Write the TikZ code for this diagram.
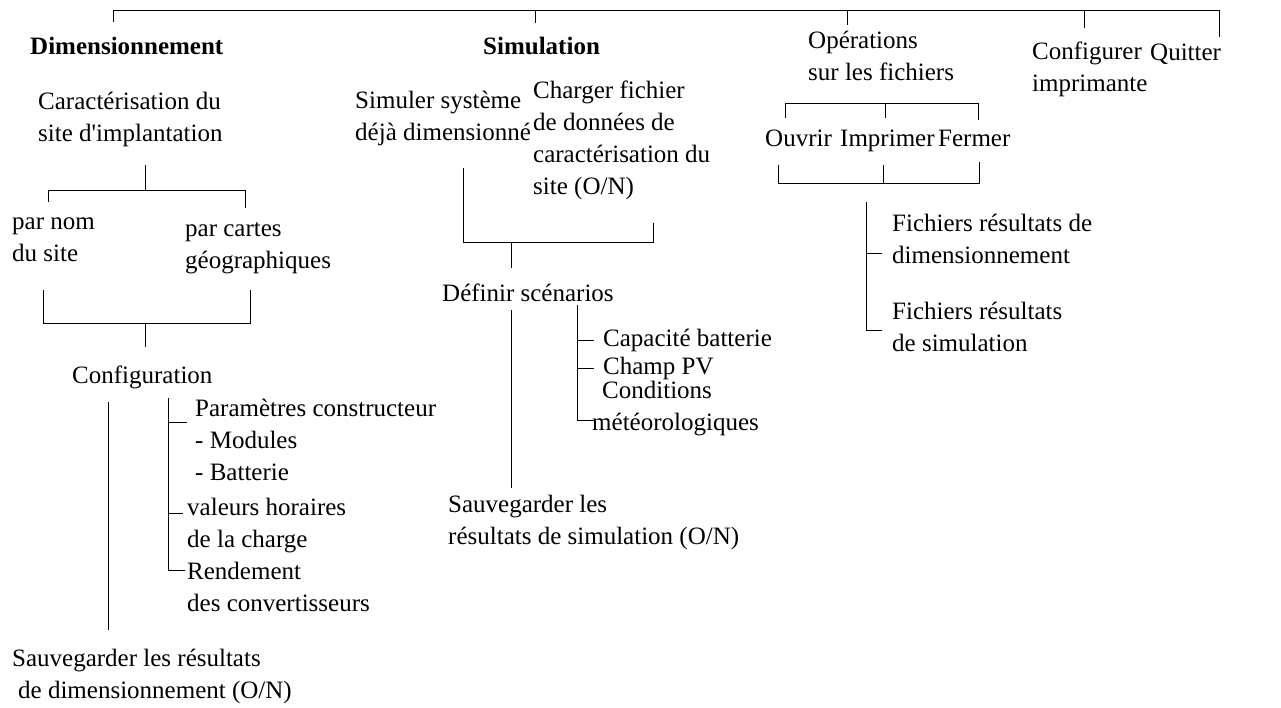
\documentclass[tikz,border=0pt]{standalone}
\usepackage{fontspec}
\setmainfont{Liberation Serif}
\begin{document}
\begin{tikzpicture}[x=1pt, y=-1pt,
  txt/.style={anchor=west, inner sep=0pt, align=left, font=\fontsize{25}{32}\selectfont,
    execute at begin node=\strut, execute at end node=\strut},
  head/.style={txt, font=\fontsize{25}{32}\selectfont\bfseries},
  lnk/.style={line width=0.8pt}
]
\useasboundingbox (0,0) rectangle (1281,708);

\node[head] (dim)  at (30,48)   {Dimensionnement};
\node[head] (sim)  at (483,48)  {Simulation};
\node[txt]  (ops)  at (808,61)  {Opérations\\sur les fichiers};
\node[txt]  (cfg)  at (1032,72) {Configurer\\imprimante};
\node[txt]  (quit) at (1150,54) {Quitter};

\node[txt] (car)      at (38,122)  {Caractérisation du\\site d\textquotesingle implantation};
\node[txt] (nom)      at (12,244)  {par nom\\du site};
\node[txt] (cartes)   at (185,250) {par cartes\\géographiques};
\node[txt] (conf)     at (72,377)  {Configuration};
\node[txt] (param)    at (195,445) {Paramètres constructeur\\- Modules\\- Batterie};
\node[txt] (horaires) at (187,528) {valeurs horaires\\de la charge};
\node[txt] (rend)     at (187,592) {Rendement\\des convertisseurs};
\node[txt] (savdim)   at (12,679)  {Sauvegarder les résultats\\\hspace*{6pt}de dimensionnement (O/N)};

\node[txt] (simsys)  at (355,121) {Simuler système\\déjà dimensionné};
\node[txt] (charger) at (533,143) {Charger fichier\\de données de\\caractérisation du\\site (O/N)};
\node[txt] (defsc)   at (442,295) {Définir scénarios};
\node[txt] (capa)    at (603,340) {Capacité batterie};
\node[txt] (champ)   at (603,368) {Champ PV};
\node[txt] (cond)    at (592,411) {\hspace*{10pt}Conditions\\météorologiques};
\node[txt] (savsim)  at (448,525) {Sauvegarder les\\résultats de simulation (O/N)};

\node[txt] (ouvrir) at (765,140) {Ouvrir};
\node[txt] (impr)   at (840,140) {Imprimer};
\node[txt] (fermer) at (938,140) {Fermer};
\node[txt] (fdim)   at (892,244) {Fichiers résultats de\\dimensionnement};
\node[txt] (fsim)   at (892,332) {Fichiers résultats\\de simulation};

\coordinate (bar)    at (0,10);
\coordinate (dim-t)  at (113,22);
\coordinate (sim-t)  at (535,23);
\coordinate (ops-t)  at (847,25);
\coordinate (cfg-t)  at (1084,28);
\coordinate (quit-t) at (1219,37);
\draw[lnk] (dim-t) -- (dim-t |- bar) -- (quit-t |- bar) -- (quit-t);
\draw[lnk] (sim-t) -- (sim-t |- bar);
\draw[lnk] (ops-t) -- (ops-t |- bar);
\draw[lnk] (cfg-t) -- (cfg-t |- bar);

\coordinate (car-b)    at (145,165);
\coordinate (site-j)   at (0,190);
\coordinate (nom-t)    at (48,202);
\coordinate (cartes-t) at (245,208);
\draw[lnk] (car-b) -- (car-b |- site-j);
\draw[lnk] (nom-t) -- (nom-t |- site-j) -- (cartes-t |- site-j) -- (cartes-t);

\coordinate (nom-b)    at (43,290);
\coordinate (cartes-b) at (250,290);
\coordinate (conf-j)   at (0,323);
\coordinate (conf-t)   at (145,347);
\draw[lnk] (nom-b) -- (nom-b |- conf-j) -- (cartes-b |- conf-j) -- (cartes-b);
\draw[lnk] (conf-t) -- (conf-t |- conf-j);

\coordinate (conf-b)   at (108,402);
\coordinate (savdim-t) at (108,630);
\draw[lnk] (conf-b) -- (savdim-t);

\coordinate (param-t)    at (168,398);
\coordinate (param-w)    at (187,422);
\coordinate (horaires-w) at (183,513);
\coordinate (rend-w)     at (185,570);
\draw[lnk] (param-t) |- (rend-w);
\draw[lnk] (param-t |- param-w) -- (param-w);
\draw[lnk] (param-t |- horaires-w) -- (horaires-w);

\coordinate (simsys-b)  at (463,168);
\coordinate (charger-b) at (653,223);
\coordinate (sim-j)     at (0,242);
\coordinate (defsc-t)   at (511,268);
\draw[lnk] (simsys-b) -- (simsys-b |- sim-j) -- (charger-b |- sim-j) -- (charger-b);
\draw[lnk] (defsc-t) -- (defsc-t |- sim-j);

\coordinate (defsc-b)  at (511,310);
\coordinate (savsim-t) at (511,488);
\draw[lnk] (defsc-b) -- (savsim-t);

\coordinate (sc-t)    at (577,305);
\coordinate (capa-w)  at (594,340);
\coordinate (champ-w) at (594,368);
\coordinate (cond-w)  at (595,420);
\draw[lnk] (sc-t) |- (cond-w);
\draw[lnk] (sc-t |- capa-w) -- (capa-w);
\draw[lnk] (sc-t |- champ-w) -- (champ-w);

\coordinate (ops-j)    at (0,103);
\coordinate (ouvrir-t) at (785,118);
\coordinate (impr-t)   at (885,118);
\coordinate (fermer-t) at (978,120);
\draw[lnk] (ouvrir-t) -- (ouvrir-t |- ops-j) -- (fermer-t |- ops-j) -- (fermer-t);
\draw[lnk] (impr-t) -- (impr-t |- ops-j);

\coordinate (fic-j)    at (0,183);
\coordinate (ouvrir-b) at (778,165);
\coordinate (impr-b)   at (883,165);
\coordinate (fermer-b) at (979,162);
\draw[lnk] (ouvrir-b) -- (ouvrir-b |- fic-j) -- (fermer-b |- fic-j) -- (fermer-b);
\draw[lnk] (impr-b) -- (impr-b |- fic-j);

\coordinate (fic-t)  at (866,202);
\coordinate (fdim-w) at (882,253);
\coordinate (fsim-w) at (882,330);
\draw[lnk] (fic-t) |- (fsim-w);
\draw[lnk] (fic-t |- fdim-w) -- (fdim-w);
\end{tikzpicture}
\end{document}
